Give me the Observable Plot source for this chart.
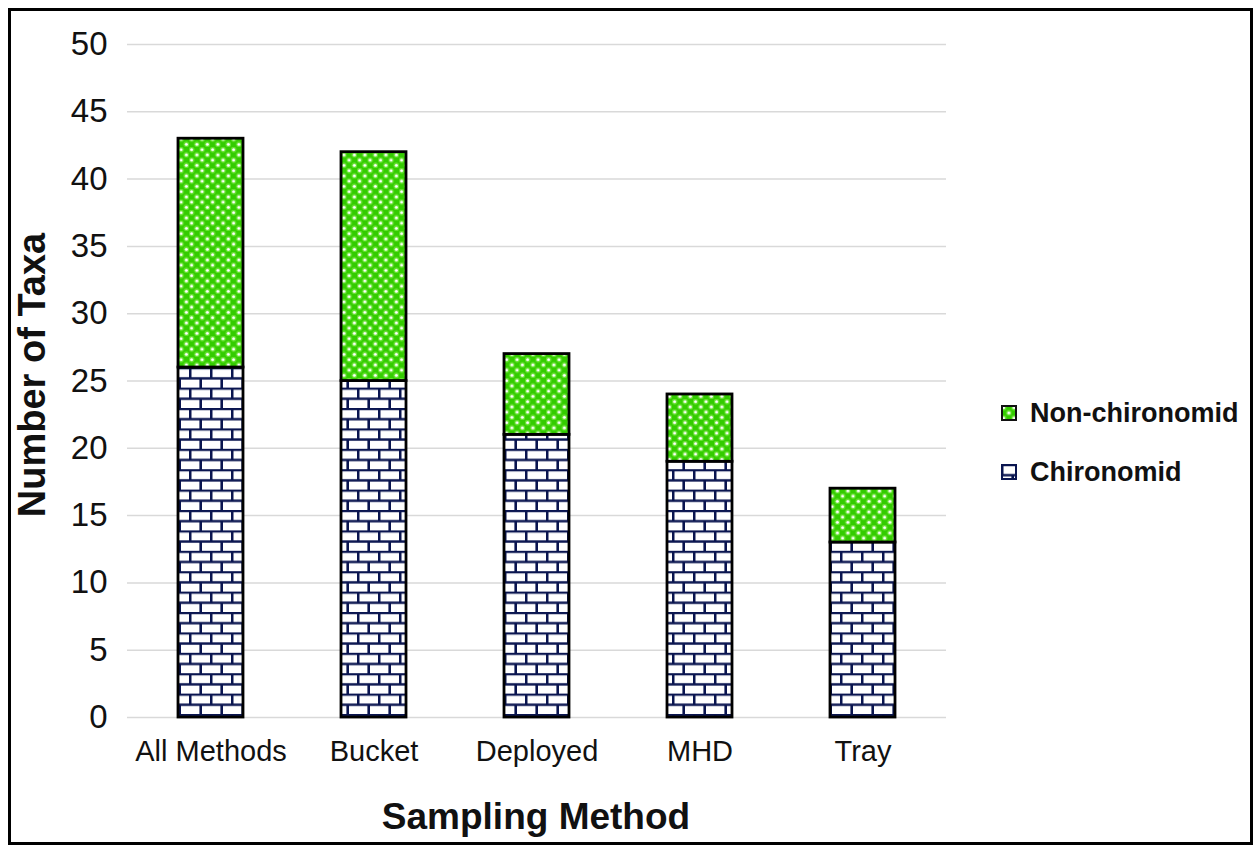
<!DOCTYPE html>
<html>
<head>
<meta charset="utf-8">
<script src="https://cdn.jsdelivr.net/npm/d3@7"></script>
<script src="https://cdn.jsdelivr.net/npm/@observablehq/plot@0.6"></script>
<style>
  html, body { margin: 0; padding: 0; background: #fff; }
  #wrap { position: relative; width: 1260px; height: 851px; overflow: hidden; font-family: Arial, "Liberation Sans", sans-serif; }
  #chart { position: absolute; left: 0; top: 0; }
  #frame { position: absolute; left: 8px; top: 8px; width: 1245px; height: 837px; border: 3px solid #000; box-sizing: border-box; pointer-events: none; }
  #legend { position: absolute; left: 1001px; top: 398px; }
  .item { display: flex; align-items: center; height: 30px; font-weight: bold; font-size: 27px; color: #111; }
  .item svg { margin-right: 13px; }
  .item + .item { margin-top: 29px; }
  #ytitle { position: absolute; left: 32px; top: 375px; transform: translate(-50%, -50%) rotate(-90deg); font-weight: bold; font-size: 38px; white-space: nowrap; color: #111; }
  #xtitle { position: absolute; left: 536px; top: 817px; transform: translate(-50%, -50%); font-weight: bold; font-size: 37px; white-space: nowrap; color: #111; }
</style>
</head>
<body>
<svg width="0" height="0" style="position:absolute">
  <defs>
    <pattern id="brick" patternUnits="userSpaceOnUse" width="21" height="20.4">
      <rect width="21" height="20.4" fill="#ffffff"/>
      <path d="M0 1H21M0 11.2H21M1.2 1V11.2M11.7 11.2V20.4" stroke="#0a1550" stroke-width="2.6" fill="none"/>
    </pattern>
    <pattern id="dots" patternUnits="userSpaceOnUse" width="10.5" height="10.5">
      <rect width="10.5" height="10.5" fill="#33cc00"/>
      <circle cx="2.6" cy="2.6" r="2.8" fill="#66e030"/>
      <circle cx="7.9" cy="7.9" r="2.8" fill="#66e030"/>
      <circle cx="2.6" cy="2.6" r="1.5" fill="#ffffff"/>
      <circle cx="7.9" cy="7.9" r="1.5" fill="#ffffff"/>
    </pattern>
  </defs>
</svg>
<div id="wrap">
  <div id="chart"></div>
  <div id="ytitle">Number of Taxa</div>
  <div id="xtitle">Sampling Method</div>
  <div id="legend"></div>
  <div id="frame"></div>
</div>
<script>
const methods = ["All Methods", "Bucket", "Deployed", "MHD", "Tray"];
const chironomid = [26, 25, 21, 19, 13];
const nonChironomid = [17, 17, 6, 5, 4];
const seriesNames = ["Chironomid", "Non-chironomid"];
const yTicks = [0, 5, 10, 15, 20, 25, 30, 35, 40, 45, 50];

const rows = [];
methods.forEach((m, i) => {
  rows.push({method: m, group: "Chironomid", value: chironomid[i]});
  rows.push({method: m, group: "Non-chironomid", value: nonChironomid[i]});
});

const plot = Plot.plot({
  width: 1260,
  height: 851,
  marginLeft: 127,
  marginRight: 314,
  marginTop: 44,
  marginBottom: 134,
  style: {fontFamily: "Arial, 'Liberation Sans', sans-serif", background: "transparent", color: "#111"},
  x: {domain: methods, paddingInner: 0.6, paddingOuter: 0.3, label: null, tickSize: 0, tickPadding: 23},
  y: {domain: [0, 50], ticks: yTicks, label: null, tickSize: 0, tickPadding: 20},
  color: {type: "ordinal", domain: seriesNames, range: ["url(#brick)", "url(#dots)"]},
  marks: [
    Plot.gridY(yTicks, {stroke: "#d9d9d9", strokeOpacity: 1, strokeWidth: 1.5}),
    Plot.axisY({ticks: yTicks, tickSize: 0, tickPadding: 20, label: null, fontSize: 33}),
    Plot.axisX({tickSize: 0, tickPadding: 23, label: null, fontSize: 29}),
    Plot.barY(rows, Plot.stackY({order: seriesNames, x: "method", y: "value", fill: "group", stroke: "#000", strokeWidth: 2.8}))
  ]
});
document.getElementById("chart").appendChild(plot);

const legendItems = [
  {name: "Non-chironomid", fill: "url(#dots)", stroke: "#111"},
  {name: "Chironomid", fill: "url(#brick)", stroke: "#0a1550"}
];
const legend = d3.select("#legend");
legendItems.forEach(it => {
  const row = legend.append("div").attr("class", "item");
  const s = row.append("svg").attr("width", 16).attr("height", 16);
  s.append("rect").attr("x", 1).attr("y", 1).attr("width", 14).attr("height", 14)
    .attr("fill", it.fill).attr("stroke", it.stroke).attr("stroke-width", 2);
  row.append("span").text(it.name);
});
</script>
</body>
</html>
